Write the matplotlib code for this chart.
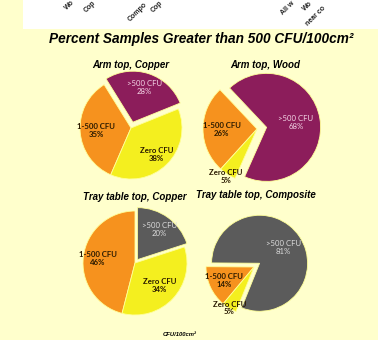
import numpy as np
import matplotlib
matplotlib.use('Agg')
import matplotlib.pyplot as plt
from matplotlib.patches import Rectangle

W, H = 378, 340

# data
categories = ['>500 CFU', '1-500 CFU', 'Zero CFU']
arm_copper = [28, 35, 38]
arm_wood = [68, 26, 5]
tray_copper = [20, 46, 34]
tray_composite = [81, 14, 5]
pie_titles = ['Arm top, Copper', 'Arm top, Wood',
              'Tray table top, Copper', 'Tray table top, Composite']
# only the part of the upper chart's tick labels that shows in the crop
top_labels = ['Wo', 'Cop', 'Compo', 'Cop', 'All w', 'Wo', 'near co']

BG = '#FFFFCC'
MAROON = '#8C1D5B'
ORANGE = '#F6921E'
YELLOW = '#F4EF1F'
GREY = '#5B5B5B'


def fx(x):
    return x / W


def fy(y):
    return 1 - y / H


def draw_pie(fig, cx, cy, r, values, first_color, startangle, explode, dists, light):
    pad = 1.3
    side = 2 * pad * r
    ax = fig.add_axes([fx(cx - side / 2), fy(cy + side / 2), side / W, side / H])
    ax.axis('off')
    colors = [first_color, ORANGE, YELLOW]
    wedges, _ = ax.pie(values, colors=colors, startangle=startangle,
                       explode=[explode, 0, 0], radius=1, normalize=True,
                       wedgeprops=dict(edgecolor='#FFFF99', linewidth=0.6))
    ax.set_xlim(-pad, pad)
    ax.set_ylim(-pad, pad)
    for i, (w, cat, v) in enumerate(zip(wedges, categories, values)):
        ang = np.deg2rad((w.theta1 + w.theta2) / 2)
        ox, oy = w.center
        d = dists[i]
        tx, ty = ox + d * np.cos(ang), oy + d * np.sin(ang)
        if i == 0:
            ax.text(tx, ty, f'{cat}\n{v}%', ha='center', va='center', fontsize=5.6,
                    color=light, family='Lato', linespacing=1.1)
        else:
            ax.text(tx, ty, f'{cat}\n{v}%', ha='center', va='center', fontsize=5.6,
                    color='#2A1A00', family='Lato', fontweight='bold', linespacing=1.1)
    return ax


fig = plt.figure(figsize=(W / 100, H / 100), dpi=100)
fig.patch.set_facecolor(BG)

# white strip of the chart above (cropped)
fig.patches.append(Rectangle((fx(23), fy(29)), 1 - fx(23), 29 / H,
                             transform=fig.transFigure, facecolor='white',
                             edgecolor='none', zorder=0))
starts = [(67, 10), (86, 13), (130, 22), (153, 13), (283, 15), (305, 11), (308, 26)]
for lab, (sx, sy) in zip(top_labels, starts):
    fig.text(fx(sx), fy(sy), lab, rotation=45, rotation_mode='anchor',
             ha='left', va='baseline', fontsize=5, fontweight='bold',
             family='Liberation Sans', color='#222222')

fig.text(fx(201), fy(39), 'Percent Samples Greater than 500 CFU/100cm²',
         ha='center', va='center', fontsize=9.8, fontweight='bold', style='italic',
         family='Liberation Sans')

title_pos = [(131, 65), (265, 65), (135, 197), (256, 195)]
for t, (tx, ty) in zip(pie_titles, title_pos):
    fig.text(fx(tx), fy(ty), t, ha='center', va='center', fontsize=7,
             fontweight='bold', style='italic', family='Liberation Sans')

draw_pie(fig, 131, 128, 51, arm_copper, MAROON, 22, 0.12, [0.72, 0.68, 0.72], '#F5D8E8')
draw_pie(fig, 257, 129, 54, arm_wood, MAROON, 246, 0.18, [0.55, 0.65, 1.05], '#F5D8E8')
draw_pie(fig, 135, 263, 52, tray_copper, GREY, 18, 0.08, [0.72, 0.72, 0.64], '#DDDDDD')
draw_pie(fig, 254, 267, 48, tray_composite, GREY, 248, 0.14, [0.6, 0.68, 1.0], '#DDDDDD')

fig.text(fx(180), fy(335), 'CFU/100cm²', ha='center', va='center',
         fontsize=4.2, fontweight='bold', style='italic', family='Liberation Sans')

fig.savefig('out.png', dpi=100, facecolor=fig.get_facecolor())
